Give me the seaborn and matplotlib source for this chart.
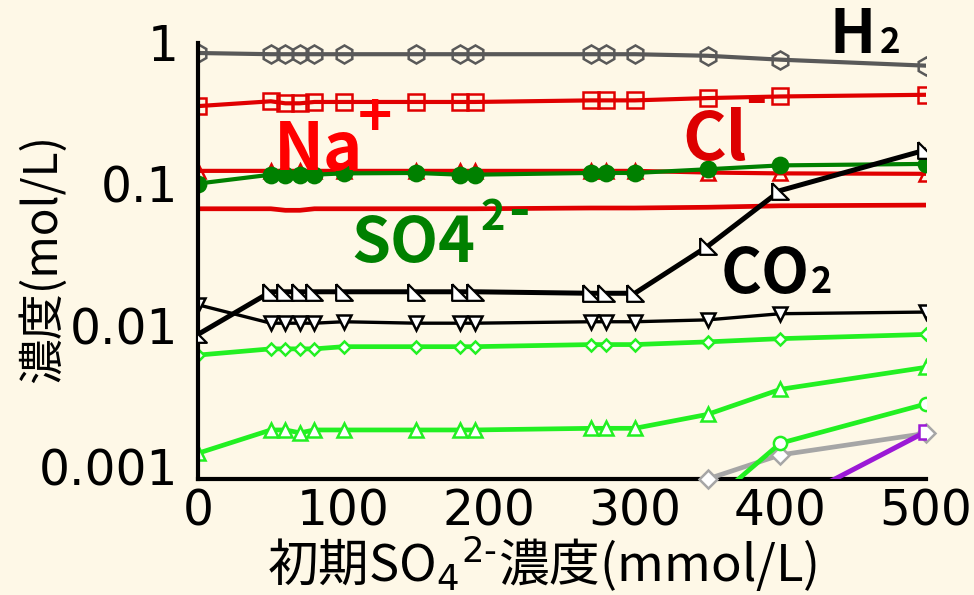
import matplotlib
matplotlib.use("Agg")
import matplotlib.pyplot as plt
import matplotlib.transforms as mtrans
from matplotlib.ticker import NullLocator
import seaborn as sns

# 初期SO4濃度 (mmol/L)
x_conc = [0, 50, 60, 70, 80, 100, 150, 180, 190, 270, 280, 300, 350, 400, 500]

h2 = [1.02, 1.0, 1.0, 1.0, 1.0, 1.0, 1.0, 1.0, 1.0, 1.0, 1.0, 1.0, 0.975, 0.915, 0.83]
na_sq = [0.43, 0.465, 0.45, 0.45, 0.46, 0.46, 0.46, 0.46, 0.46, 0.472, 0.472, 0.472, 0.49, 0.503, 0.517]
cl_tri = [0.15, 0.15, 0.15, 0.15, 0.15, 0.15, 0.15, 0.15, 0.15, 0.15, 0.15, 0.15, 0.146, 0.144, 0.143]
so4 = [0.122, 0.141, 0.141, 0.141, 0.141, 0.144, 0.145, 0.141, 0.141, 0.145, 0.145, 0.145, 0.154, 0.164, 0.168]
red_plain = [0.081, 0.081, 0.079, 0.079, 0.081, 0.081, 0.081, 0.081, 0.081, 0.082, 0.082, 0.082, 0.083, 0.085, 0.086]
co2 = [0.0105, 0.021, 0.021, 0.021, 0.021, 0.021, 0.021, 0.021, 0.021, 0.0205, 0.0205, 0.0205, 0.044, 0.109, 0.211]
black_v = [0.017, 0.0126, 0.0126, 0.0126, 0.0126, 0.0129, 0.0126, 0.0126, 0.0126, 0.0129, 0.0129, 0.0129, 0.0133, 0.0147, 0.0151]
lg_dia = [0.0075, 0.0083, 0.0083, 0.0083, 0.0083, 0.0086, 0.0086, 0.0086, 0.0086, 0.0089, 0.0089, 0.0089, 0.0093, 0.0098, 0.0105]
lg_tri = [0.00152, 0.00222, 0.00222, 0.00212, 0.00222, 0.00222, 0.00222, 0.00222, 0.00222, 0.00228, 0.00228, 0.00228, 0.00286, 0.0043, 0.00615]

x_tail = [350, 400, 500]
lg_circ = [0.00065, 0.00179, 0.00339]
gray_dia = [0.001, 0.00148, 0.0021]
x_purple = [400, 500]
purple_sq = [0.00063, 0.00216]

y_ticks = [0.001, 0.01, 0.1, 1]
y_ticklabels = ["0.001", "0.01", "0.1", "1"]
x_ticks = [0, 100, 200, 300, 400, 500]

bg = "#FEF8E7"
lgreen = "#22F022"
sns.set_theme(style="white")
plt.rcParams["font.family"] = ["Noto Sans CJK JP", "DejaVu Sans"]

fig = plt.figure(figsize=(9.74, 5.95), dpi=100, facecolor=bg)
ax = fig.add_axes([198 / 974, 116 / 595, 728 / 974, 436 / 595])
ax.set_facecolor(bg)

# 直角三角形マーカー (CO2)
co2_marker = [(-1, 1), (-1, -1), (1, -1), (-1, 1)]

def line(x, y, color, marker, ms, lw, mfc, mec=None, z=2, clip=True, mew=1.8):
    sns.lineplot(x=x, y=y, ax=ax, color=color, marker=marker, markersize=ms,
                 linewidth=lw, markerfacecolor=mfc,
                 markeredgecolor=mec if mec else color, markeredgewidth=mew,
                 zorder=z, clip_on=clip)

line(x_conc, red_plain, "#E00000", None, 0, 3.4, bg)
line(x_conc, h2, "#595959", "h", 13, 3.0, "none")
line(x_conc, na_sq, "#E00000", "s", 11, 3.0, "none")
line(x_conc, cl_tri, "#E00000", "^", 10, 3.0, "none")
line(x_conc, so4, "#008000", "o", 11, 3.0, "#008000")
line(x_conc, black_v, "black", "v", 9.5, 2.4, "white")
line(x_conc, lg_dia, lgreen, "D", 6.5, 3.4, "white")
line(x_conc, lg_tri, lgreen, "^", 10, 3.4, "white")
line(x_tail, gray_dia, "#A6A6A6", "D", 9, 3.4, "white", z=3, clip=False)
line(x_tail, lg_circ, lgreen, "o", 9.5, 3.4, "white", z=3)
line(x_purple, purple_sq, "#9B19D6", "s", 9.5, 3.6, "white", z=4)
line(x_conc, co2, "black", co2_marker, 12, 3.6, "white", z=5, mew=1.6)

ax.set_yscale("log")
ax.set_ylim(0.001, 1.2)
ax.set_xlim(0, 500)
ax.set_yticks(y_ticks)
ax.set_yticklabels(y_ticklabels, fontfamily="DejaVu Sans")
ax.yaxis.set_minor_locator(NullLocator())
ax.set_xticks(x_ticks)
ax.set_xticklabels([str(v) for v in x_ticks], fontfamily="DejaVu Sans")

for side in ["top", "right"]:
    ax.spines[side].set_visible(False)
for side in ["left", "bottom"]:
    ax.spines[side].set_color("black")
    ax.spines[side].set_linewidth(3)

ax.tick_params(direction="in", length=9, width=3, color="black", labelsize=35,
               labelcolor="black")
ax.tick_params(axis="y", pad=14)
ax.tick_params(axis="x", pad=6)
offset = mtrans.ScaledTranslation(0, 12 / 100, fig.dpi_scale_trans)
for lab in ax.get_yticklabels():
    lab.set_transform(lab.get_transform() + offset)

ax.set_ylabel("濃度(mol/L)", fontsize=33, color="black")
ax.yaxis.set_label_coords(-0.18, 0.505)
ax.set_xlabel("初期SO$_4$$^{2\\text{-}}$濃度(mmol/L)", fontsize=36.5, color="black")
ax.xaxis.set_label_coords(0.4725, -0.125)

bold = dict(fontweight="bold", va="baseline", ha="left", clip_on=False, zorder=6)
ax.text(434, 1.02, "H", fontsize=44, color="black", **bold)
ax.text(468, 1.02, "2", fontsize=25, color="black", **bold)
ax.text(52, 0.153, "Na", fontsize=48, color="#FF0000", **bold)
ax.text(110, 0.262, "+", fontsize=42, color="#FF0000", **bold)
ax.text(333, 0.18, "Cl", fontsize=48, color="#DD0000", **bold)
ax.text(376, 0.36, "-", fontsize=42, color="#DD0000", **bold)
ax.text(105, 0.0342, "SO4", fontsize=45, color="#008000", **bold)
ax.text(194, 0.0575, "2", fontsize=30, color="#008000", **bold)
ax.text(213, 0.058, "-", fontsize=42, color="#008000", **bold)
ax.text(359, 0.0206, "CO", fontsize=45, color="black", **bold)
ax.text(421, 0.0206, "2", fontsize=26, color="black", **bold)

fig.savefig("out.png", dpi=100, facecolor=bg)
